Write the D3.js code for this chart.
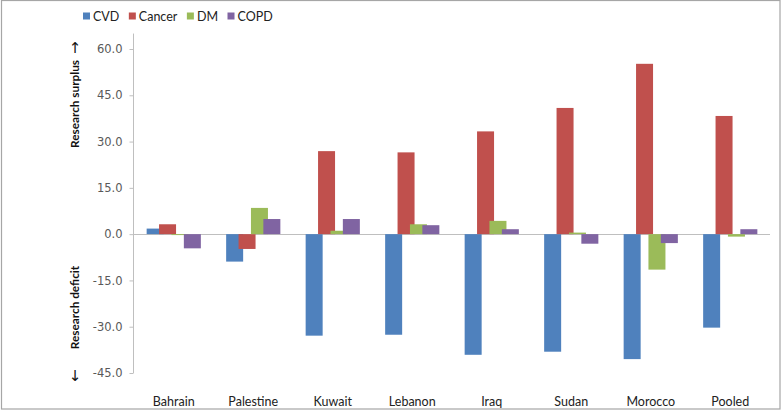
<!DOCTYPE html>
<html>
<head>
<meta charset="utf-8">
<script src="https://cdn.jsdelivr.net/npm/d3@7/dist/d3.min.js"></script>
<style>
  html, body { margin: 0; padding: 0; background: #fff; }
  svg { display: block; }
</style>
</head>
<body>
<svg id="chart" width="782" height="412"></svg>
<script>
const categories = ["Bahrain", "Palestine", "Kuwait", "Lebanon", "Iraq", "Sudan", "Morocco", "Pooled"];
const seriesNames = ["CVD", "Cancer", "DM", "COPD"];
const cvd    = [1.8, -8.9, -32.9, -32.6, -39.1, -38.1, -40.5, -30.3];
const cancer = [3.2, -4.8, 26.9, 26.5, 33.3, 40.9, 55.2, 38.3];
const dm     = [-0.3, 8.5, 1.1, 3.2, 4.3, 0.5, -11.5, -0.8];
const copd   = [-4.6, 4.9, 4.9, 2.9, 1.6, -3.1, -2.9, 1.6];
const yTicks = [60, 45, 30, 15, 0, -15, -30, -45];
const colors = ["#4f81bd", "#c0504d", "#9bbb59", "#8064a2"];

const seriesValues = [cvd, cancer, dm, copd];

const svg = d3.select("#chart");

svg.append("rect")
  .attr("x", 1.5).attr("y", 0.5).attr("width", 778.5).attr("height", 408.5)
  .attr("fill", "#fff").attr("stroke", "#a6a6a6").attr("stroke-width", 1.2);

const plotLeft = 134, plotRight = 770;
const y = d3.scaleLinear().domain([-45, 60]).range([373, 49]);
const x0 = d3.scaleBand().domain(categories).range([plotLeft, plotRight]).padding(0);

const barW = 17, barStep = 12.4;
const groupW = barStep * (seriesNames.length - 1) + barW;
const x1 = d3.scalePoint().domain(seriesNames).range([0, barStep * (seriesNames.length - 1)]);

// Y axis
const yAxis = d3.axisLeft(y).tickValues(yTicks).tickSize(4).tickPadding(7)
  .tickFormat(d3.format(".1f"));
const gy = svg.append("g").attr("transform", `translate(${plotLeft - 0.5},0)`).call(yAxis);
gy.select(".domain").remove();
gy.append("line").attr("x1", 0).attr("x2", 0).attr("y1", y(65)).attr("y2", y(-45))
  .attr("stroke", "#bfbfbf");
gy.selectAll(".tick line").attr("stroke", "#bfbfbf");
gy.selectAll(".tick text")
  .attr("font-family", "DejaVu Sans, Verdana, sans-serif")
  .attr("font-size", "11.5px").attr("fill", "#595959")
  .text(d => d.toFixed(1));

// zero line
svg.append("line")
  .attr("x1", plotLeft).attr("x2", plotRight)
  .attr("y1", Math.round(y(0)) + 0.5).attr("y2", Math.round(y(0)) + 0.5)
  .attr("stroke", "#bfbfbf");

// bars
seriesNames.forEach((s, si) => {
  svg.append("g").selectAll("rect")
    .data(categories.map((c, i) => ({ c, v: seriesValues[si][i] })))
    .join("rect")
    .attr("x", d => x0(d.c) + (x0.bandwidth() - groupW) / 2 + x1(s))
    .attr("width", barW)
    .attr("y", d => y(Math.max(0, d.v)))
    .attr("height", d => Math.abs(y(d.v) - y(0)))
    .attr("fill", colors[si]);
});

// category labels
svg.append("g").selectAll("text")
  .data(categories).join("text")
  .attr("x", d => x0(d) + x0.bandwidth() / 2)
  .attr("y", 406)
  .attr("text-anchor", "middle")
  .attr("font-family", "Lato, sans-serif")
  .attr("font-size", "12.5px")
  .attr("fill", "#222")
  .text(d => d);

// Y titles
svg.append("text")
  .attr("transform", `translate(79,${(63 + 145) / 2}) rotate(-90)`)
  .attr("text-anchor", "middle")
  .attr("font-family", "Lato, sans-serif").attr("font-weight", "bold")
  .attr("font-size", "11.8px").attr("fill", "#111")
  .text("Research surplus");
svg.append("text")
  .attr("transform", `translate(79,${(270 + 345) / 2}) rotate(-90)`)
  .attr("text-anchor", "middle")
  .attr("font-family", "Lato, sans-serif").attr("font-weight", "bold")
  .attr("font-size", "11.8px").attr("fill", "#111")
  .text("Research deficit");
svg.append("text")
  .attr("x", 75).attr("y", 53).attr("text-anchor", "middle")
  .attr("font-family", "DejaVu Sans, sans-serif").attr("font-size", "15px").attr("fill", "#111")
  .text("↑");
svg.append("text")
  .attr("x", 75).attr("y", 381).attr("text-anchor", "middle")
  .attr("font-family", "DejaVu Sans, sans-serif").attr("font-size", "15px").attr("fill", "#111")
  .text("↓");

// legend
const legend = svg.append("g");
let lx = 83;
seriesNames.forEach((s, si) => {
  legend.append("rect").attr("x", lx).attr("y", 12.5).attr("width", 7).attr("height", 7)
    .attr("fill", colors[si]);
  const t = legend.append("text").attr("x", lx + 10).attr("y", 20.5)
    .attr("font-family", "Lato, sans-serif").attr("font-size", "12.5px").attr("fill", "#222")
    .text(s);
  lx += 10 + t.node().getComputedTextLength() + 9.5;
});
</script>
</body>
</html>
